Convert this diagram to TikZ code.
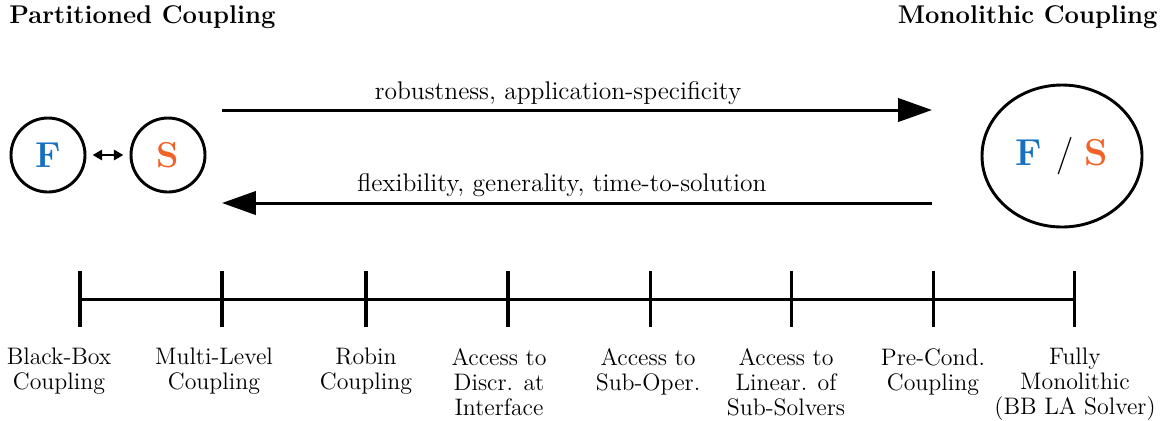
\documentclass[tikz,border=0pt]{standalone}
\usetikzlibrary{arrows.meta,shapes.geometric}
\definecolor{fluidblue}{RGB}{22,112,192}
\definecolor{solidorange}{RGB}{240,98,40}
\begin{document}
\begin{tikzpicture}[x=0.48pt,y=-0.48pt,
  every node/.style={font=\fontsize{12}{12}\selectfont},
  title/.style={font=\fontsize{12.3}{12}\selectfont\bfseries, inner sep=0pt},
  field/.style={circle, draw, line width=1.4pt, minimum size=74*0.48pt, inner sep=0pt, font=\LARGE\bfseries},
  bigarrow/.style={line width=1.45pt, -{Triangle[length=16.3pt,width=11.2pt]}},
  arrowlabel/.style={inner sep=0pt, anchor=base, font=\fontsize{12.25}{12}\selectfont},
  tick/.style={line width=1.45pt},
  level/.style={align=center, anchor=north, inner sep=0pt, font=\fontsize{11.45}{12}\selectfont}]
\useasboundingbox (0,0) rectangle (1166,420);

% headings
\node[title, anchor=base west] (part) at (9,23) {Partitioned Coupling};
\node[title, anchor=base east] (mono) at (1158,23) {Monolithic Coupling};

% partitioned: fluid and solid solvers
\node[field] (F) at (48,155) {\textcolor{fluidblue}{F}};
\node[field] (S) at (168,155) {\textcolor{solidorange}{S}};
\draw[line width=0.8pt, {Triangle[length=4.5pt,width=5pt]}-{Triangle[length=4.5pt,width=5pt]}]
  ([xshift=3pt]F.east) -- ([xshift=-3pt]S.west);

% monolithic: one system
\node[ellipse, draw, line width=1.4pt, minimum width=160*0.48pt, minimum height=142*0.48pt,
      inner sep=0pt, font=\fontsize{18}{20}\selectfont\bfseries] (FS) at (1062,156)
  {\textcolor{fluidblue}{F} \mdseries/ \bfseries\textcolor{solidorange}{S}};

% trade-off arrows
\coordinate (aL) at (222,110);
\coordinate (aR) at (932,110);
\coordinate (bL) at (222,203);
\coordinate (bR) at (932,203);
\draw[bigarrow] (aL) -- (aR);
\draw[bigarrow] (bR) -- (bL);
\node[arrowlabel] (robust) at (558,99) {robustness, application-specificity};
\node[arrowlabel] (flex) at (562,191) {flexibility, generality, time-to-solution};

% coupling spectrum
\foreach \i/\x in {1/80,2/222,3/366,4/508,5/650,6/791,7/933,8/1074}{
  \coordinate (t\i) at (\x,299);
  \draw[tick] ([yshift=13.4pt]t\i) -- ([yshift=-13.4pt]t\i);
}
\draw[tick] (t1) -- (t8);

% levels of coupling, from black-box to fully monolithic
\node[level] (l1) at (59,348) {Black-Box\\Coupling};
\node[level] (l2) at (214,348) {Multi-Level\\Coupling};
\node[level] (l3) at (366,348) {Robin\\Coupling};
\node[level] (l4) at (499,348) {Access to\\Discr. at\\Interface};
\node[level] (l5) at (648,348) {Access to\\Sub-Oper.};
\node[level] (l6) at (786,348) {Access to\\Linear. of\\Sub-Solvers};
\node[level] (l7) at (933,348) {Pre-Cond.\\Coupling};
\node[level] (l8) at (1075,348) {Fully\\Monolithic\\(BB LA Solver)};
\end{tikzpicture}
\end{document}
